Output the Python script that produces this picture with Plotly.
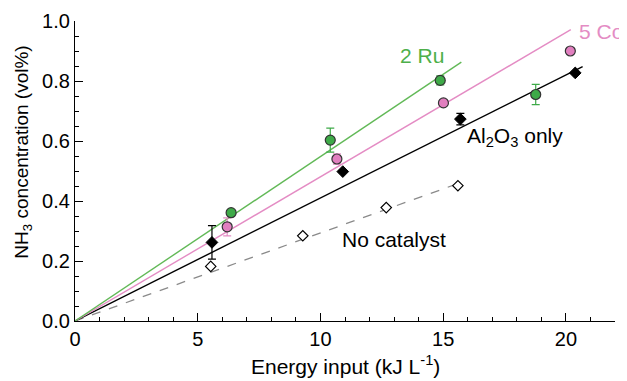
import plotly.graph_objects as go

# 2 Ru
ru_x = [6.36, 10.4, 14.88, 18.77]
ru_y = [0.361, 0.603, 0.802, 0.755]
ru_err = [0.0, 0.04, 0.015, 0.034]
ru_fit_x = [0, 15.74]
ru_fit_y = [0, 0.863]

# 5 Co
co_x = [6.2, 10.67, 15.01, 20.18]
co_y = [0.314, 0.54, 0.727, 0.9]
co_err = [0.03, 0.017, 0.0, 0.0]
co_fit_x = [0, 20.2]
co_fit_y = [0, 0.971]

# Al2O3 only
al_x = [5.58, 10.91, 15.7, 20.38]
al_y = [0.262, 0.498, 0.673, 0.827]
al_err = [0.056, 0.0, 0.019, 0.0]
al_fit_x = [0, 20.68]
al_fit_y = [0, 0.848]

# No catalyst
nc_x = [5.53, 9.28, 12.68, 15.6]
nc_y = [0.182, 0.284, 0.378, 0.451]
nc_fit_x = [0, 15.6]
nc_fit_y = [0, 0.458]

x_title = "Energy input (kJ L<sup>-1</sup>)"
y_title = "NH<sub>3</sub> concentration (vol%)"

GREEN_LINE = "#62b957"
GREEN_FILL = "#3eaa48"
PINK_LINE = "#e48cc4"
PINK_FILL = "#e17fbf"
FONT = "Liberation Sans, Arial, sans-serif"

fig = go.Figure()

fig.add_trace(go.Scatter(x=nc_fit_x, y=nc_fit_y, mode="lines",
                         line=dict(color="#8a8a8a", width=1.3, dash="dash")))
fig.add_trace(go.Scatter(x=al_fit_x, y=al_fit_y, mode="lines",
                         line=dict(color="black", width=1.4)))
fig.add_trace(go.Scatter(x=co_fit_x, y=co_fit_y, mode="lines",
                         line=dict(color=PINK_LINE, width=1.4)))
fig.add_trace(go.Scatter(x=ru_fit_x, y=ru_fit_y, mode="lines",
                         line=dict(color=GREEN_LINE, width=1.4)))

fig.add_trace(go.Scatter(x=nc_x, y=nc_y, mode="markers",
                         marker=dict(symbol="diamond", size=8, color="white",
                                     line=dict(color="black", width=1.2))))
fig.add_trace(go.Scatter(x=al_x, y=al_y, mode="markers",
                         error_y=dict(type="data", array=al_err, color="black",
                                      thickness=1.2, width=4),
                         marker=dict(symbol="diamond", size=9, color="black",
                                     line=dict(color="black", width=1))))
fig.add_trace(go.Scatter(x=co_x, y=co_y, mode="markers",
                         error_y=dict(type="data", array=co_err, color=PINK_LINE,
                                      thickness=1.2, width=4),
                         marker=dict(symbol="circle", size=10, color=PINK_FILL,
                                     line=dict(color="#333333", width=1.2))))
fig.add_trace(go.Scatter(x=ru_x, y=ru_y, mode="markers",
                         error_y=dict(type="data", array=ru_err, color=GREEN_FILL,
                                      thickness=1.2, width=4),
                         marker=dict(symbol="circle", size=10, color=GREEN_FILL,
                                     line=dict(color="#333333", width=1.2))))

annots = [
    dict(x=14.12, y=0.885, text="2 Ru", color="#4daf4a"),
    dict(x=21.42, y=0.965, text="5 Co", color="#e48cc4"),
    dict(x=17.94, y=0.614, text="Al<sub>2</sub>O<sub>3</sub> only", color="black"),
    dict(x=13.0, y=0.271, text="No catalyst", color="black"),
]
for a in annots:
    fig.add_annotation(x=a["x"], y=a["y"], text=a["text"], showarrow=False,
                       font=dict(family=FONT, size=21, color=a["color"]),
                       xanchor="center", yanchor="middle")

# axis titles as annotations for exact placement
fig.add_annotation(xref="paper", yref="paper", x=0.5, y=-0.148, text=x_title,
                   showarrow=False, font=dict(family=FONT, size=21, color="black"),
                   xanchor="center", yanchor="middle")
fig.add_annotation(xref="paper", yref="paper", x=-0.098, y=0.5615, text=y_title,
                   showarrow=False, textangle=-90,
                   font=dict(family=FONT, size=19, color="black"),
                   xanchor="center", yanchor="middle")

# page body adds an 8px offset, so the figure is sized/margined accordingly
fig.update_layout(
    width=619, height=373,
    margin=dict(l=67, r=12, t=13, b=60, autoexpand=False),
    paper_bgcolor="white", plot_bgcolor="white",
    showlegend=False,
    font=dict(family=FONT, size=20, color="black"),
)
fig.update_xaxes(
    range=[0, 22], tickvals=[0, 5, 10, 15, 20],
    showline=True, linecolor="black", linewidth=1.3,
    ticks="inside", ticklen=8, tickwidth=1.2, tickcolor="black",
    minor=dict(dtick=1, ticks="inside", ticklen=4, tickcolor="black", tickwidth=1),
    showgrid=False, zeroline=False, automargin=False,
    tickfont=dict(size=20),
)
fig.update_yaxes(
    range=[0, 1.0], tickvals=[0, 0.2, 0.4, 0.6, 0.8, 1.0], tickformat=".1f",
    showline=True, linecolor="black", linewidth=1.3,
    ticks="inside", ticklen=8, tickwidth=1.2, tickcolor="black",
    minor=dict(dtick=0.05, ticks="inside", ticklen=4, tickcolor="black", tickwidth=1),
    showgrid=False, zeroline=False, automargin=False,
    tickfont=dict(size=20),
)

fig.write_html("out.html")
